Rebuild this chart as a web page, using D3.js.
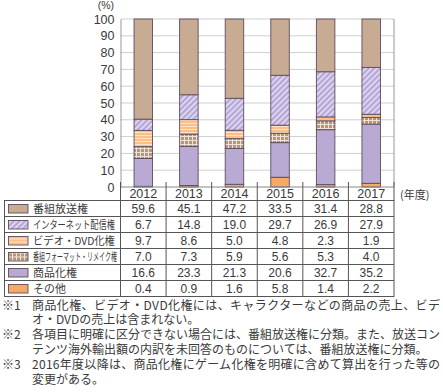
<!DOCTYPE html>
<html>
<head>
<meta charset="utf-8">
<script src="https://cdn.jsdelivr.net/npm/d3@7"></script>
<style>
  body { margin: 0; background: #fff; }
  svg { display: block; font-family: "Noto Sans CJK JP", "Noto Sans", sans-serif; }
</style>
</head>
<body>
<svg id="drawing_region"></svg>
<script>
// data
const years = ["2012", "2013", "2014", "2015", "2016", "2017"];
const categories = ["番組放送権", "インターネット配信権", "ビデオ・DVD化権", "番組フォーマット・リメイク権", "商品化権", "その他"];
const broadcast = [59.6, 45.1, 47.2, 33.5, 31.4, 28.8];
const internet = [6.7, 14.8, 19.0, 29.7, 26.9, 27.9];
const video = [9.7, 8.6, 5.0, 4.8, 2.3, 1.9];
const format = [7.0, 7.3, 5.9, 5.6, 5.3, 4.0];
const merch = [16.6, 23.3, 21.3, 20.6, 32.7, 35.2];
const other = [0.4, 0.9, 1.6, 5.8, 1.4, 2.2];
const yticks = [0, 10, 20, 30, 40, 50, 60, 70, 80, 90, 100];
const notes = [
  ["※1", "商品化権、ビデオ・DVD化権には、キャラクターなどの商品の売上、ビデ", true],
  ["", "オ・DVDの売上は含まれない。", false],
  ["※2", "各項目に明確に区分できない場合には、番組放送権に分類。また、放送コン", true],
  ["", "テンツ海外輸出額の内訳を未回答のものについては、番組放送権に分類。", false],
  ["※3", "2016年度以降は、商品化権にゲーム化権を明確に含めて算出を行った等の", true],
  ["", "変更がある。", false]
];

const series = [broadcast, internet, video, format, merch, other];
const table = years.map((y, i) => {
  const row = { year: y };
  categories.forEach((c, k) => row[c] = series[k][i]);
  return row;
});

const W = 443, H = 392;
const plotLeft = 120.5, plotRight = 394, plotTop = 19, plotBottom = 187;
const rowH = 16, tableTop = 200.5, tableLeft = 4.5;
const textColor = "#3a3a3a";
const lineColor = "#555";

const svg = d3.select("#drawing_region").attr("width", W).attr("height", H);

// patterns
const defs = svg.append("defs");
const pInternet = defs.append("pattern").attr("id", "p-internet")
  .attr("patternUnits", "userSpaceOnUse").attr("width", 4).attr("height", 4)
  .attr("patternTransform", "rotate(45)");
pInternet.append("rect").attr("width", 4).attr("height", 4).attr("fill", "#ddd5ee");
pInternet.append("rect").attr("width", 2).attr("height", 4).attr("fill", "#b4a6d6");

const pVideo = defs.append("pattern").attr("id", "p-video")
  .attr("patternUnits", "userSpaceOnUse").attr("width", 4).attr("height", 3);
pVideo.append("rect").attr("width", 4).attr("height", 3).attr("fill", "#fdbf86");
pVideo.append("rect").attr("width", 4).attr("height", 1).attr("fill", "#ffe3c6");

const pFormat = defs.append("pattern").attr("id", "p-format")
  .attr("patternUnits", "userSpaceOnUse").attr("width", 4).attr("height", 4);
pFormat.append("rect").attr("width", 4).attr("height", 4).attr("fill", "#b3977b");
pFormat.append("rect").attr("width", 1).attr("height", 4).attr("fill", "#eee3d6");
pFormat.append("rect").attr("width", 4).attr("height", 1).attr("fill", "#eee3d6");

const fills = {
  "番組放送権": "#c8ab93",
  "インターネット配信権": "url(#p-internet)",
  "ビデオ・DVD化権": "url(#p-video)",
  "番組フォーマット・リメイク権": "url(#p-format)",
  "商品化権": "#b9aad4",
  "その他": "#f8a965"
};

// scales
const xcol = d3.scaleBand().domain(years).range([plotLeft, plotRight]).padding(0);
const barW = 18.5;
const yscale = d3.scaleLinear().domain([0, 100]).range([plotBottom, plotTop]);

// grid
svg.append("g").selectAll("line").data(yticks.filter(d => d > 0)).join("line")
  .attr("x1", plotLeft).attr("x2", plotRight)
  .attr("y1", d => yscale(d)).attr("y2", d => yscale(d))
  .attr("stroke", "#cfcfcf").attr("stroke-width", 1);

// y axis
const yaxis = d3.axisLeft(yscale).tickValues(yticks).tickSize(0).tickPadding(6);
const yg = svg.append("g").attr("transform", `translate(${plotLeft},0)`).call(yaxis);
yg.select(".domain").attr("stroke", "#999");
yg.selectAll("text").attr("font-size", "12.5px").attr("fill", textColor)
  .attr("font-family", "'Liberation Sans', sans-serif");

svg.append("line").attr("x1", plotRight).attr("x2", plotRight)
  .attr("y1", plotTop).attr("y2", plotBottom).attr("stroke", "#999");
svg.append("text").attr("x", 114).attr("y", 9.3).attr("text-anchor", "end")
  .attr("font-size", "10.5px").attr("font-family", "'Liberation Sans', sans-serif")
  .attr("fill", textColor).text("(%)");

// stacked bars
const stackOrder = categories.slice().reverse();
const stacked = d3.stack().keys(stackOrder)(table);
svg.append("g").selectAll("g").data(stacked).join("g")
  .attr("fill", d => fills[d.key])
  .selectAll("rect").data(d => d).join("rect")
  .attr("x", d => xcol(d.data.year) + (xcol.bandwidth() - barW) / 2)
  .attr("y", d => yscale(d[1]))
  .attr("width", barW)
  .attr("height", d => yscale(d[0]) - yscale(d[1]))
  .attr("stroke", "#5e4c5c").attr("stroke-width", 0.9);

// baseline
svg.append("line").attr("x1", plotLeft).attr("x2", plotRight)
  .attr("y1", plotBottom).attr("y2", plotBottom).attr("stroke", "#888");

// year header
const bounds = years.map(y => xcol(y)).concat([plotRight]);
svg.append("g").selectAll("line").data(bounds).join("line")
  .attr("x1", d => d).attr("x2", d => d)
  .attr("y1", 182).attr("y2", tableTop)
  .attr("stroke", lineColor);
svg.append("g").selectAll("text").data(years).join("text")
  .attr("x", d => xcol(d) + xcol.bandwidth() / 2).attr("y", 198)
  .attr("text-anchor", "middle").attr("font-size", "12.5px").attr("fill", textColor)
  .attr("font-family", "'Liberation Sans', sans-serif")
  .text(d => d);
svg.append("text").attr("x", 400).attr("y", 198.5).attr("font-size", "11px")
  .attr("fill", textColor).text("(年度)");

// table
const tg = svg.append("g");
const tableBottom = tableTop + rowH * categories.length;
tg.append("rect").attr("x", tableLeft).attr("y", tableTop)
  .attr("width", plotRight - tableLeft).attr("height", tableBottom - tableTop)
  .attr("fill", "none").attr("stroke", lineColor);
tg.selectAll("line.h").data(d3.range(1, categories.length)).join("line")
  .attr("class", "h").attr("x1", tableLeft).attr("x2", plotRight)
  .attr("y1", d => tableTop + d * rowH).attr("y2", d => tableTop + d * rowH)
  .attr("stroke", lineColor);
tg.selectAll("line.v").data(years.map(y => xcol(y))).join("line")
  .attr("class", "v").attr("x1", d => d).attr("x2", d => d)
  .attr("y1", tableTop).attr("y2", tableBottom).attr("stroke", lineColor);

const rows = tg.selectAll("g.row").data(categories).join("g")
  .attr("class", "row").attr("transform", (d, i) => `translate(0,${tableTop + i * rowH})`);
rows.append("rect").attr("x", 8.5).attr("y", 4).attr("width", 19.5).attr("height", 8.5)
  .attr("fill", d => fills[d]).attr("stroke", "#5e4c5c").attr("stroke-width", 0.9);
// long labels are squeezed horizontally like the condensed type in the original
rows.append("text").attr("font-size", "11px").attr("fill", textColor)
  .each(function(d) {
    const t = d3.select(this).text(d);
    const maxW = d.length > 12 ? 84 : 82;
    const w = this.getComputedTextLength();
    const sx = w > maxW ? maxW / w : 1;
    t.attr("transform", `translate(33,12.3) scale(${sx},1)`);
  });
rows.selectAll("text.v").data((c, k) => series[k].map((v, i) => ({ v: v, year: years[i] })))
  .join("text").attr("class", "v")
  .attr("x", d => xcol(d.year) + xcol.bandwidth() / 2).attr("y", 12.6)
  .attr("text-anchor", "middle").attr("font-size", "12px").attr("fill", textColor)
  .attr("font-family", "'Liberation Sans', sans-serif")
  .text(d => d.v.toFixed(1));

// footnotes
const ng = svg.append("g");
notes.forEach((n, i) => {
  const y = 309.5 + i * 14.8;
  if (n[0]) ng.append("text").attr("x", 2).attr("y", y).attr("font-size", "12px")
    .attr("fill", textColor).text(n[0]);
  const t = ng.append("text").attr("x", 32).attr("y", y).attr("font-size", "12px")
    .attr("fill", textColor).text(n[1]);
  if (n[2]) t.attr("textLength", 408).attr("lengthAdjust", "spacing");
});
</script>
</body>
</html>
